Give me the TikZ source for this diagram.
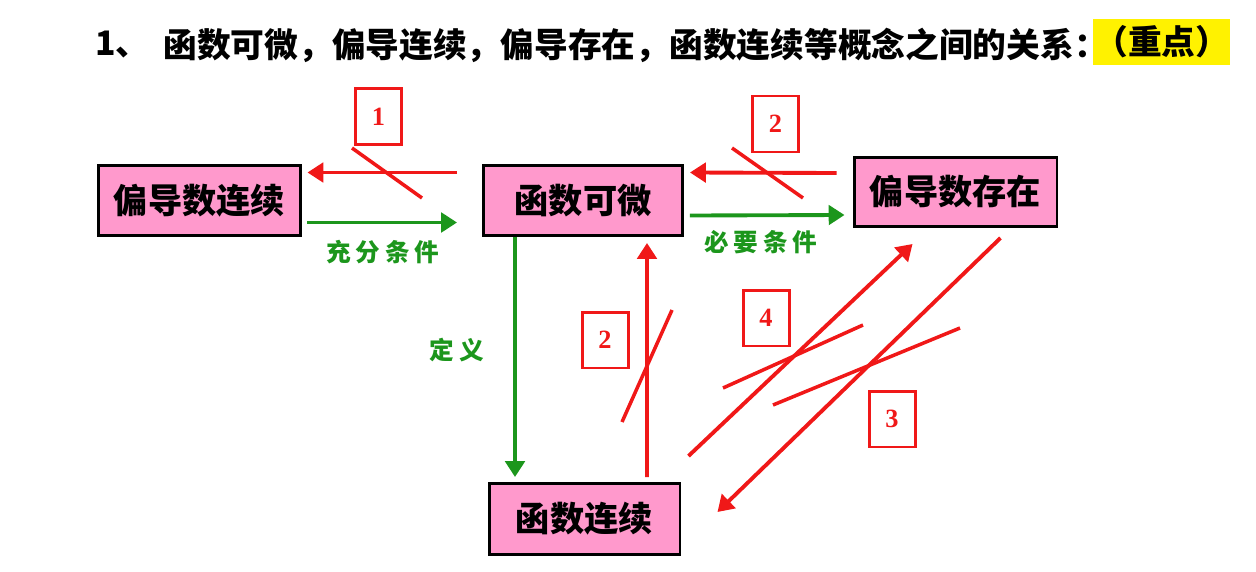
\documentclass[tikz,border=0pt]{standalone}
\usepackage{fontspec}
\newfontfamily\cjk{Noto Sans CJK SC}
\newfontfamily\cjkwide{Noto Sans CJK SC}[LetterSpace=20]
\newfontfamily\digitfont{Liberation Serif}
\usetikzlibrary{arrows.meta,positioning}
\definecolor{boxpink}{RGB}{255,153,204}
\definecolor{arrred}{RGB}{240,24,24}
\definecolor{arrgreen}{RGB}{28,150,28}
\tikzset{
  concept/.style={draw=black,line width=1.7pt,fill=boxpink,inner sep=0pt,
    font=\cjk\bfseries\fontsize{19.5}{19.5}\selectfont},
  redarrow/.style={draw=arrred,line width=2.2pt,-{Triangle[length=9pt,width=11pt]}},
  greenarrow/.style={draw=arrgreen,line width=2.2pt,-{Triangle[length=9pt,width=11pt]}},
  notline/.style={draw=arrred,line width=2pt},
  numbox/.style={draw=arrred,line width=1.7pt,text=arrred,minimum width=0.92cm,
    minimum height=1.12cm,font=\digitfont\bfseries\fontsize{15}{15}\selectfont},
  condlabel/.style={text=arrgreen,font=\cjkwide\bfseries\fontsize{14}{14}\selectfont},
  titletext/.style={anchor=west,inner sep=0pt,font=\cjk\bfseries\fontsize{19.2}{19.2}\selectfont}
}
\begin{document}
\begin{tikzpicture}[x=0.02cm,y=-0.02cm]
\useasboundingbox (0,0) rectangle (1256,571);
% title
\node[titletext] (num) at (95,45) {1、};
\node[titletext] (title) at (163,45) {函数可微，偏导连续，偏导存在，函数连续等概念之间的关系：};
\node[titletext,fill=yellow,minimum width=2.74cm,minimum height=0.94cm] (key) at (1093,42) {（重点）};
% the four concepts
\node[concept,minimum width=4.06cm,minimum height=1.4cm] (pdlx) at (199.5,200.5) {偏导数连续};
\node[concept,minimum width=3.98cm,minimum height=1.4cm] (kewei) at (583,200.5) {函数可微};
\node[concept,minimum width=4.06cm,minimum height=1.38cm] (pdcz) at (955.5,192) {偏导数存在};
\node[concept,minimum width=3.82cm,minimum height=1.42cm] (lianxu) at (584.5,519) {函数连续};
% true implications
\draw[greenarrow] ([shift={(5,22)}]pdlx.east) -- ([shift={(-25,22)}]kewei.west);
\node[condlabel] (chongfen) at (383,252) {充分条件};
\draw[greenarrow] ([shift={(6,15)}]kewei.east) -- ([shift={(-8,23)}]pdcz.west);
\node[condlabel] (biyao) at (761,242) {必要条件};
\draw[greenarrow] ([shift={(-68,0)}]kewei.south) -- ([shift={(-69.5,-5)}]lianxu.north);
\node[condlabel] (dingyi) at (457,350) {定义};
% false implications
\draw[redarrow] ([shift={(-25,-28)}]kewei.west) -- ([shift={(5,-28)}]pdlx.east);
\draw[notline] (352,148) -- (422,198);
\node[numbox] (n1) at (378.5,116.5) {1};
\draw[redarrow] ([shift={(-16,-19)}]pdcz.west) -- ([shift={(6,-28)}]kewei.east);
\draw[notline] (732,148) -- (803,198);
\node[numbox] (n2a) at (775.5,124) {2};
\draw[redarrow] ([shift={(62.5,-5)}]lianxu.north) -- ([shift={(64,6)}]kewei.south);
\draw[notline] (622,422) -- (672,310);
\node[numbox] (n2b) at (605,340) {2};
\draw[redarrow] ([shift={(7,-26)}]lianxu.north east) -- ([shift={(60,16)}]pdcz.south west);
\draw[notline] (723,388) -- (863,325);
\node[numbox] (n4) at (766,318) {4};
\draw[redarrow] ([shift={(-58,10)}]pdcz.south east) -- ([shift={(36,-7)}]lianxu.east);
\draw[notline] (773,405) -- (960,328);
\node[numbox] (n3) at (892,419) {3};
\end{tikzpicture}
\end{document}
